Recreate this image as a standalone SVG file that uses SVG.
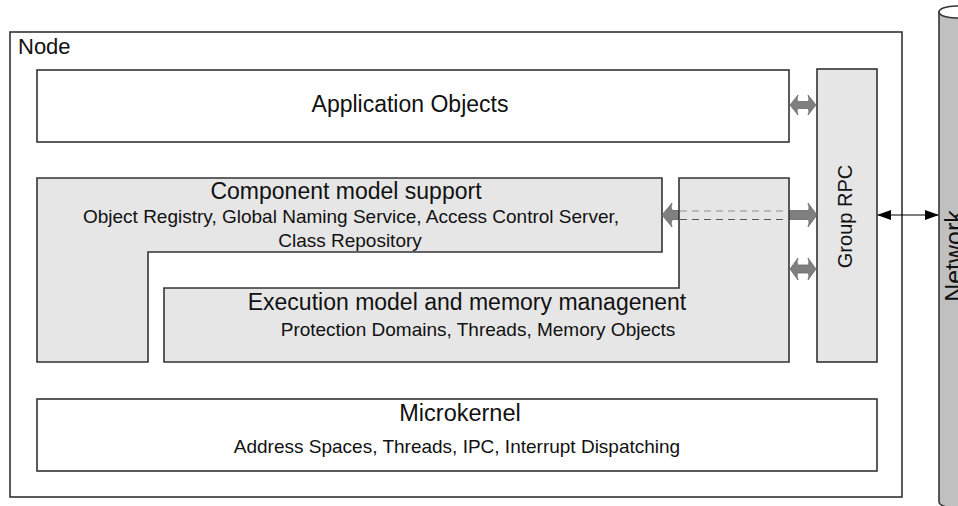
<svg xmlns="http://www.w3.org/2000/svg" width="958" height="506" viewBox="0 0 958 506">
<style>
  .box { stroke: #333333; stroke-width: 1.6; }
  .white { fill: #ffffff; }
  .grey { fill: #e6e6e6; }
  .t { font-family: "Liberation Sans", Arial, sans-serif; fill: #111111; }
  .title { font-size: 23px; text-anchor: middle; }
  .sub { font-size: 19px; text-anchor: middle; }
  .blk { fill: #7f7f7f; stroke: #6a6a6a; stroke-width: 0.8; }
  .dash1 { stroke: #aaaaaa; stroke-width: 1.5; stroke-dasharray: 7 5; fill: none; }
  .dash2 { stroke: #555555; stroke-width: 1.2; stroke-dasharray: 7 5; fill: none; }
</style>
<defs>
  <marker id="ah" viewBox="0 0 14 10" refX="13" refY="5" markerWidth="14" markerHeight="10" markerUnits="userSpaceOnUse" orient="auto-start-reverse">
    <path d="M0,0 L14,5 L0,10 Z" fill="#000000"/>
  </marker>
</defs>

<g id="node-outer">
  <rect x="10" y="32" width="892" height="465" class="box white" stroke-width="2"/>
  <text x="18" y="54" class="t" font-size="22">Node</text>
</g>

<g id="network">
  <path d="M939,12 L939,502 A17,6 0 0 0 973,502 L973,12 Z" fill="#c0c0c0" stroke="#333333" stroke-width="1.6"/>
  <ellipse cx="956" cy="12" rx="17" ry="6" fill="#ffffff" stroke="#333333" stroke-width="1.6"/>
  <text x="963" y="256" class="t" font-size="25" text-anchor="middle" transform="rotate(-90 963 256)">Network</text>
</g>

<g id="application-objects">
  <rect x="37" y="70" width="752" height="72" class="box white"/>
  <text x="410" y="112" class="t title">Application Objects</text>
</g>

<g id="group-rpc">
  <rect x="817" y="69" width="60" height="293" class="box grey"/>
  <text x="852" y="216.5" class="t" font-size="20" text-anchor="middle" transform="rotate(-90 852 216.5)">Group RPC</text>
</g>

<g id="component-model">
  <path d="M37,178 L662,178 L662,252 L148,252 L148,362 L37,362 Z" class="box grey" stroke-width="1.8"/>
  <text x="346" y="199" class="t title">Component model support</text>
  <text x="351" y="223" class="t sub">Object Registry, Global Naming Service, Access Control Server,</text>
  <text x="350" y="247" class="t sub">Class Repository</text>
</g>

<g id="connectors-behind">
  <path class="blk" d="M662,215 L672,203 Q670,209 673,210.5 L808,210.5 Q810,209 808,203 L817,215 L808,227 Q810,221 808,219.5 L673,219.5 Q670,221 672,227 Z"/>
</g>

<g id="execution-model">
  <path d="M164,288 L679,288 L679,178 L789,178 L789,362 L164,362 Z" class="box grey" stroke-width="1.8"/>
  <text x="467" y="310" class="t title">Execution model and memory managenent</text>
  <text x="478" y="336" class="t sub">Protection Domains, Threads, Memory Objects</text>
</g>

<g id="microkernel">
  <rect x="37" y="399" width="840" height="72" class="box white"/>
  <text x="460" y="421" class="t" font-size="23.5" text-anchor="middle">Microkernel</text>
  <text x="457" y="453" class="t sub">Address Spaces, Threads, IPC, Interrupt Dispatching</text>
</g>

<g id="connectors">
  <line x1="680" y1="211" x2="788" y2="211" class="dash1"/>
  <line x1="680" y1="219.5" x2="788" y2="219.5" class="dash2"/>
  <path class="blk" d="M790,105 L798,95 Q796,100.5 798.5,101.5 L807.5,101.5 Q810,100.5 808,95 L816,105 L808,115 Q810,109.5 807.5,108.5 L798.5,108.5 Q796,109.5 798,115 Z"/>
  <path class="blk" d="M790,269 L798,258 Q796,264 798.5,265 L807.5,265 Q810,264 808,258 L816,269 L808,280 Q810,274 807.5,273 L798.5,273 Q796,274 798,280 Z"/>
  <line x1="878" y1="215" x2="938" y2="215" stroke="#000000" stroke-width="1.2" marker-start="url(#ah)" marker-end="url(#ah)"/>
</g>
</svg>
